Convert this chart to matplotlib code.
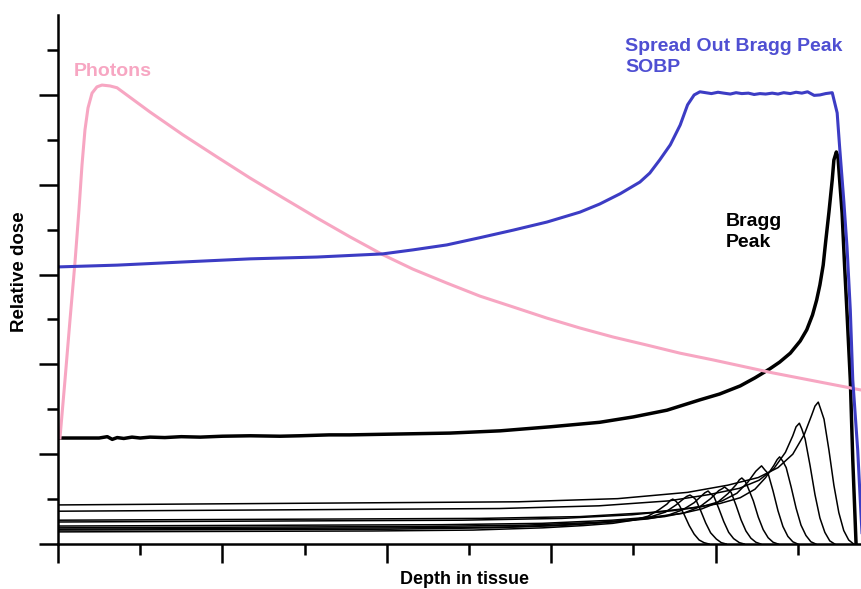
import matplotlib.pyplot as plt

plt.rcParams['font.family'] = ['Liberation Sans', 'DejaVu Sans']
plt.rcParams['font.weight'] = 'bold'

# photons (pink)
photon_depth = [0.024, 0.085, 0.146, 0.207, 0.255, 0.292, 0.328, 0.365, 0.414, 0.474, 0.535,
                0.633, 0.718, 1.119, 1.521, 1.934, 2.336, 2.737, 3.151, 3.552, 3.954, 4.319,
                4.732, 5.134, 5.535, 5.949, 6.350, 6.752, 7.165, 7.567, 7.968, 8.698, 9.769]
photon_dose = [2.36, 3.65, 4.99, 6.28, 7.44, 8.44, 9.22, 9.71, 10.04, 10.18, 10.22,
               10.20, 10.16, 9.62, 9.11, 8.62, 8.15, 7.71, 7.26, 6.84, 6.44, 6.12,
               5.81, 5.52, 5.28, 5.03, 4.81, 4.61, 4.43, 4.25, 4.10, 3.81, 3.43]

# spread out bragg peak (blue)
sobp_depth = [0, 0.72, 1.52, 2.34, 3.15, 3.95, 4.32, 4.73, 5.13, 5.54, 5.95, 6.35, 6.59, 6.84,
              7.08, 7.20, 7.32, 7.45, 7.57, 7.66, 7.74, 7.81,
              7.88, 7.95, 8.03, 8.10, 8.18, 8.25, 8.32, 8.40, 8.47, 8.54, 8.61, 8.69, 8.76,
              8.83, 8.91, 8.98, 9.05, 9.12, 9.20, 9.27, 9.34, 9.42,
              9.48, 9.51, 9.56, 9.60, 9.64, 9.67, 9.73, 9.77, 9.79]
sobp_dose = [6.17, 6.21, 6.28, 6.35, 6.39, 6.46, 6.55, 6.66, 6.82, 6.99, 7.17, 7.39, 7.57, 7.80,
             8.06, 8.26, 8.55, 8.89, 9.33, 9.78, 10.00, 10.07,
             10.05, 10.03, 10.06, 10.04, 10.02, 10.05, 10.03, 10.04, 10.01, 10.03, 10.02, 10.04,
             10.02, 10.05, 10.03, 10.06, 10.04, 10.07, 9.99, 10.00, 10.03, 10.05,
             9.60, 8.84, 7.66, 6.61, 5.21, 3.65, 2.09, 0.65, 0]

# single bragg peak (thick black)
bragg_depth = [0, 0.5, 0.6, 0.66, 0.72, 0.8, 0.9, 1.0, 1.12, 1.3, 1.5, 1.73, 2.0, 2.34, 2.7,
               2.94, 3.3, 3.55, 4.16, 4.77, 5.38, 5.99, 6.59, 7.00, 7.41, 7.81, 8.05, 8.30,
               8.48, 8.66, 8.78, 8.91, 9.03, 9.11, 9.18, 9.23, 9.27, 9.31, 9.34, 9.38, 9.42,
               9.44, 9.47, 9.49, 9.51, 9.54, 9.57, 9.60, 9.64, 9.67, 9.71]
bragg_dose = [2.36, 2.36, 2.39, 2.33, 2.37, 2.35, 2.38, 2.36, 2.38, 2.37, 2.39, 2.38, 2.40, 2.41,
              2.40, 2.41, 2.43, 2.43, 2.45, 2.47, 2.52, 2.61, 2.71, 2.83, 2.98, 3.21, 3.34, 3.52,
              3.70, 3.90, 4.05, 4.25, 4.52, 4.77, 5.10, 5.43, 5.77, 6.21, 6.73, 7.39, 8.11,
              8.55, 8.73, 8.62, 8.11, 7.37, 6.21, 5.14, 3.65, 1.87, 0]

# pristine peaks making up the SOBP (thin black)
pristine_depths = [
    [0, 5.60, 6.81, 7.66, 8.15, 8.52, 8.76, 8.94, 9.08, 9.17, 9.21, 9.25, 9.28, 9.32, 9.38, 9.44, 9.50, 9.56, 9.62, 9.68],
    [0, 5.37, 6.58, 7.43, 7.92, 8.29, 8.53, 8.71, 8.85, 8.94, 8.98, 9.02, 9.05, 9.09, 9.15, 9.21, 9.27, 9.33, 9.39, 9.45],
    [0, 5.13, 6.35, 7.20, 7.69, 8.05, 8.30, 8.48, 8.61, 8.71, 8.75, 8.78, 8.82, 8.86, 8.92, 8.98, 9.04, 9.10, 9.16, 9.22],
    [0, 4.91, 6.13, 6.98, 7.47, 7.83, 8.08, 8.26, 8.39, 8.49, 8.53, 8.56, 8.60, 8.64, 8.70, 8.76, 8.82, 8.88, 8.94, 9.00],
    [0, 4.67, 5.89, 6.74, 7.23, 7.59, 7.83, 8.02, 8.15, 8.25, 8.29, 8.32, 8.36, 8.39, 8.46, 8.52, 8.58, 8.64, 8.70, 8.76],
    [0, 4.46, 5.68, 6.53, 7.02, 7.38, 7.63, 7.81, 7.94, 8.04, 8.08, 8.11, 8.15, 8.19, 8.25, 8.31, 8.37, 8.43, 8.49, 8.55],
    [0, 4.26, 5.48, 6.33, 6.81, 7.18, 7.42, 7.60, 7.74, 7.84, 7.87, 7.91, 7.94, 7.98, 8.04, 8.10, 8.16, 8.22, 8.29, 8.35],
    [0, 4.04, 5.26, 6.11, 6.59, 6.96, 7.20, 7.39, 7.52, 7.62, 7.65, 7.69, 7.73, 7.76, 7.82, 7.88, 7.94, 8.01, 8.07, 8.13],
    [0, 3.83, 5.05, 5.90, 6.39, 6.75, 7.00, 7.18, 7.31, 7.41, 7.45, 7.48, 7.52, 7.56, 7.62, 7.68, 7.74, 7.80, 7.86, 7.92],
]
pristine_doses = [
    [0.87, 0.94, 1.01, 1.15, 1.31, 1.48, 1.70, 2.00, 2.44, 2.87, 3.07, 3.16, 3.00, 2.78, 2.09, 1.31, 0.70, 0.30, 0.09, 0],
    [0.73, 0.79, 0.85, 0.96, 1.10, 1.24, 1.42, 1.68, 2.04, 2.41, 2.61, 2.69, 2.56, 2.34, 1.75, 1.10, 0.58, 0.26, 0.07, 0],
    [0.53, 0.57, 0.61, 0.70, 0.80, 0.90, 1.03, 1.22, 1.48, 1.75, 1.88, 1.94, 1.84, 1.70, 1.27, 0.80, 0.42, 0.19, 0.05, 0],
    [0.49, 0.53, 0.57, 0.65, 0.74, 0.83, 0.96, 1.13, 1.37, 1.62, 1.69, 1.74, 1.65, 1.57, 1.18, 0.74, 0.39, 0.17, 0.05, 0],
    [0.40, 0.43, 0.46, 0.53, 0.60, 0.68, 0.78, 0.92, 1.12, 1.32, 1.43, 1.47, 1.40, 1.28, 0.96, 0.60, 0.32, 0.14, 0.04, 0],
    [0.36, 0.39, 0.42, 0.48, 0.54, 0.61, 0.70, 0.83, 1.01, 1.19, 1.23, 1.27, 1.21, 1.15, 0.86, 0.54, 0.29, 0.13, 0.04, 0],
    [0.33, 0.36, 0.38, 0.44, 0.50, 0.56, 0.64, 0.76, 0.92, 1.09, 1.14, 1.18, 1.12, 1.06, 0.79, 0.50, 0.26, 0.12, 0.03, 0],
    [0.31, 0.33, 0.36, 0.41, 0.47, 0.53, 0.60, 0.71, 0.87, 1.02, 1.06, 1.09, 1.04, 0.99, 0.74, 0.47, 0.25, 0.11, 0.03, 0],
    [0.27, 0.29, 0.31, 0.36, 0.41, 0.46, 0.53, 0.62, 0.76, 0.89, 0.97, 1.00, 0.95, 0.86, 0.65, 0.41, 0.22, 0.09, 0.03, 0],
]

pink = '#F7A6C2'
blue = '#3C3CC4'

fig = plt.figure(figsize=(8.61, 5.89), dpi=100)
ax = fig.add_axes([58 / 861, 45 / 589, 803 / 861, 529 / 589])

for d, v in zip(pristine_depths, pristine_doses):
    ax.plot(d, v, color='black', lw=1.1, solid_joinstyle='round')
ax.plot(bragg_depth, bragg_dose, color='black', lw=2.5, solid_joinstyle='round')
ax.plot(photon_depth, photon_dose, color=pink, lw=2.2, solid_joinstyle='round')
ax.plot(sobp_depth, sobp_dose, color=blue, lw=2.2, solid_joinstyle='round')

ax.set_xlim(0, 9.77)
ax.set_ylim(0, 11.78)
ax.set_xticks(range(0, 10, 2))
ax.set_xticks(range(1, 10, 2), minor=True)
ax.set_yticks(range(0, 12, 2))
ax.set_yticks(range(1, 12, 2), minor=True)
ax.tick_params(which='major', length=14, width=1.8, direction='out',
               labelbottom=False, labelleft=False)
ax.tick_params(which='minor', length=8, width=1.8, direction='out')
for s in ['top', 'right']:
    ax.spines[s].set_visible(False)
for s in ['left', 'bottom']:
    ax.spines[s].set_linewidth(1.8)

ax.text(0.67, 10.52, 'Photons', color=pink, fontsize=14, ha='center', va='center')
ax.text(6.90, 10.85, 'Spread Out Bragg Peak\nSOBP', color='#4F4FD2', fontsize=14,
        ha='left', va='center', linespacing=1.3)
ax.text(8.12, 6.95, 'Bragg\nPeak', color='black', fontsize=14, ha='left', va='center',
        linespacing=1.25)

fig.text(465 / 861, 1 - 580 / 589, 'Depth in tissue', fontsize=13, ha='center', va='center')
fig.text(20 / 861, 1 - 272 / 589, 'Relative dose', fontsize=13.5, ha='center', va='center',
         rotation=90)

fig.savefig('out.png', dpi=100)
